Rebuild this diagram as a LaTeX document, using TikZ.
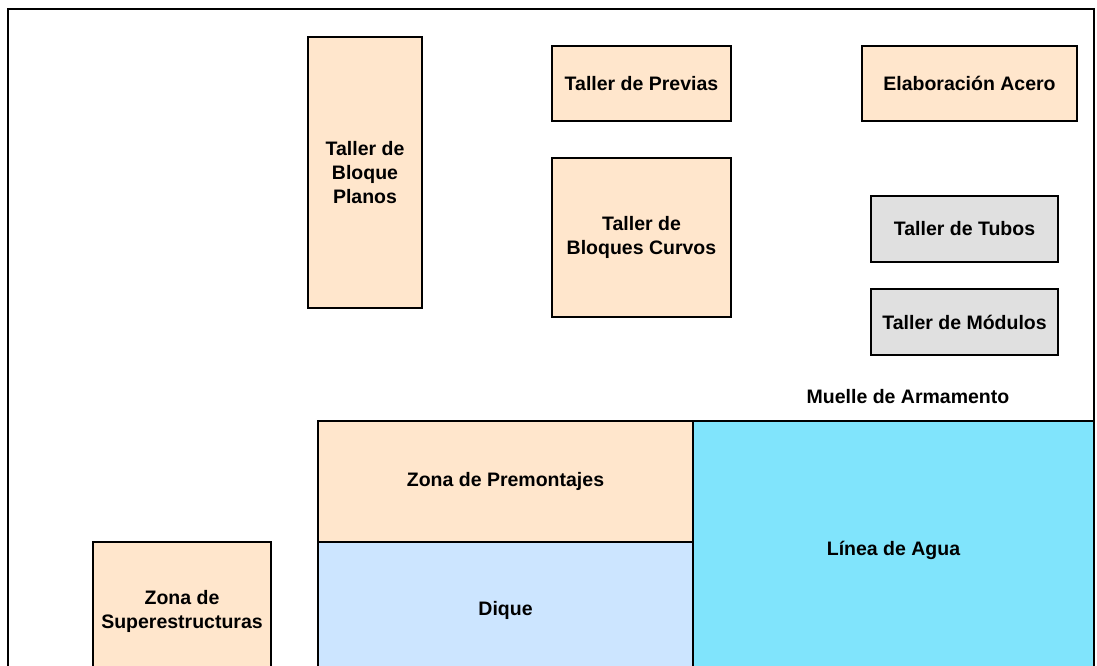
\documentclass[tikz,border=0pt]{standalone}
\usepackage{fontspec}
\setmainfont{Liberation Sans}
\definecolor{peach}{HTML}{FFE6CC}
\definecolor{shopgray}{HTML}{E0E0E0}
\definecolor{dockblue}{HTML}{CCE5FF}
\definecolor{water}{HTML}{80E4FC}
\begin{document}
\begin{tikzpicture}[x=1pt,y=-1pt,
  area/.style={draw=black, line width=2pt, align=center, inner sep=0pt,
    font=\fontsize{19.5}{24}\selectfont\bfseries},
  label/.style={align=center, inner sep=0pt, font=\fontsize{19.5}{24}\selectfont\bfseries}]
\useasboundingbox (0,0) rectangle (1097,666);
\clip (0,0) rectangle (1097,666);
% yard boundary
\draw[line width=2pt] (8,9) rectangle (1094,700);
% workshops
\node[area, fill=peach, minimum width=114pt, minimum height=271pt] (planos) at (365,172.5) {Taller de\\Bloque\\Planos};
\node[area, fill=peach, minimum width=179pt, minimum height=75pt] (previas) at (641.5,83.5) {Taller de Previas};
\node[area, fill=peach, minimum width=215pt, minimum height=75pt] (acero) at (969.5,83.5) {Elaboración Acero};
\node[area, fill=peach, minimum width=179pt, minimum height=159pt] (curvos) at (641.5,237.5) {Taller de\\Bloques Curvos};
\node[area, fill=shopgray, minimum width=187pt, minimum height=66pt] (tubos) at (964.5,229) {Taller de Tubos};
\node[area, fill=shopgray, minimum width=187pt, minimum height=66pt] (modulos) at (964.5,322) {Taller de Módulos};
\node[label] (muelle) at (908,397) {Muelle de Armamento};
% assembly and water areas
\node[area, fill=peach, minimum width=375pt, minimum height=121pt] (premont) at (505.5,481.5) {Zona de Premontajes};
\node[area, fill=dockblue, minimum width=375pt, minimum height=136pt] (dique) at (505.5,610) {Dique};
\node[area, fill=water, minimum width=401pt, minimum height=258pt] (agua) at (893.5,550) {Línea de Agua};
\node[area, fill=peach, minimum width=178pt, minimum height=138pt] (super) at (182,611) {Zona de\\Superestructuras};
\end{tikzpicture}
\end{document}
